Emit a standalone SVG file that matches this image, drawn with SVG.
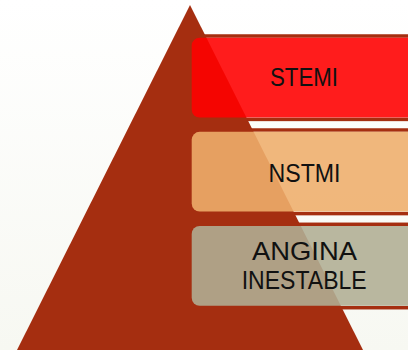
<svg xmlns="http://www.w3.org/2000/svg" width="408" height="350" viewBox="0 0 408 350">
<defs>
<linearGradient id="bg" x1="0" y1="0" x2="0" y2="1">
<stop offset="0" stop-color="#ffffff"/>
<stop offset="1" stop-color="#f7f8f2"/>
</linearGradient>
<style>
.band{fill:none;stroke:#a52e10;stroke-width:3.5}
.box{fill-opacity:0.89}
.lbl{font-family:"Liberation Sans",Arial,sans-serif;font-size:25px;fill:#111;text-anchor:middle}
</style>
</defs>
<rect x="0" y="0" width="408" height="350" fill="url(#bg)"/>
<g id="bands">
<rect class="band" x="186" y="36" width="240" height="83.4"/>
<rect class="band" x="186" y="130" width="240" height="83.6"/>
<rect class="band" x="186" y="224.3" width="240" height="83.4"/>
</g>
<g id="pyramid">
<polygon points="190,5 17,350 363,350" fill="#a52e10"/>
</g>
<g id="stemi">
<rect class="box" x="191.7" y="37.7" width="225" height="79.8" rx="8" fill="#ff0000"/>
<text class="lbl" x="304" y="86" textLength="68" lengthAdjust="spacingAndGlyphs">STEMI</text>
</g>
<g id="nstmi">
<rect class="box" x="191.7" y="131.8" width="225" height="79.8" rx="8" fill="#eeae6c"/>
<text class="lbl" x="304.5" y="181.7" textLength="72" lengthAdjust="spacingAndGlyphs">NSTMI</text>
</g>
<g id="angina">
<rect class="box" x="191.7" y="226" width="225" height="79.8" rx="8" fill="#b0ae94"/>
<text class="lbl" x="304.5" y="260" textLength="105" lengthAdjust="spacingAndGlyphs">ANGINA</text>
<text class="lbl" x="304.2" y="289" textLength="125" lengthAdjust="spacingAndGlyphs">INESTABLE</text>
</g>
</svg>
